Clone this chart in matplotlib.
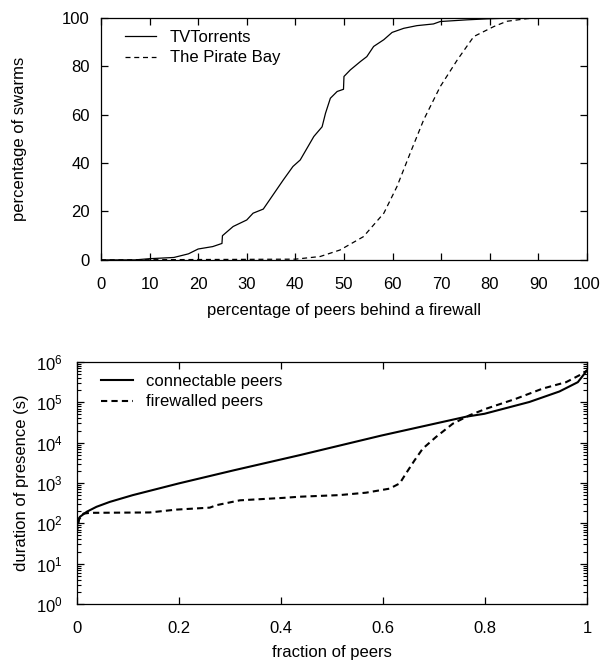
"""
Dos graficas: CDF de swarms vs firewall y duracion de presencia de peers.
"""

import matplotlib
matplotlib.use('Agg')
import matplotlib.pyplot as plt
from matplotlib.ticker import MultipleLocator, FormatStrFormatter, LogLocator

plt.rcParams['font.family'] = ['Liberation Sans', 'DejaVu Sans']
plt.rcParams['mathtext.fontset'] = 'custom'
plt.rcParams['mathtext.rm'] = 'Liberation Sans'
plt.rcParams['mathtext.it'] = 'Liberation Sans:italic'
plt.rcParams['mathtext.default'] = 'regular'
plt.rcParams['axes.linewidth'] = 0.9

# --- datos grafica superior ---
tv_x = [0, 7, 10, 15, 18, 20, 23, 24.9, 25, 27.2, 30, 31.3, 33.4, 34.7, 37.5, 39.5,
        41, 43.8, 45.5, 46.2, 47.2, 48.6, 49.9, 50, 51.3, 53.4, 54.7, 56.1, 58.2,
        59.9, 62.3, 65, 68.4, 69.8, 75.3, 79.4, 85, 100]
tv_y = [0, 0, 0.5, 1.0, 2.5, 4.5, 5.5, 6.8, 10, 13.8, 16.5, 19.3, 21, 24.8, 33, 38.6,
        41.3, 51, 55, 60.6, 66.8, 69.6, 70.5, 75.8, 78.5, 82, 84, 88.2, 91,
        94, 95.7, 96.8, 97.5, 98.5, 99.2, 99.6, 100, 100]

pb_x = [0, 40, 45.1, 49.2, 54, 58.2, 60.9, 63.6, 66.4, 69.8, 73.3, 76.7, 80.8,
        83.5, 87.7, 90, 100]
pb_y = [0, 0.3, 1.4, 4.1, 9.6, 19.3, 30.3, 44, 57.9, 71.6, 82.6, 92.3, 96.4,
        98.6, 99.7, 100, 100]

# --- datos grafica inferior ---
conn_frac = [0, 0.002, 0.0065, 0.02, 0.039, 0.065, 0.11, 0.2, 0.307, 0.437, 0.597,
             0.763, 0.799, 0.887, 0.946, 0.982, 1.0]
conn_sec = [56, 120, 145, 194, 257, 340, 500, 975, 2050, 4900, 15000,
            44000, 52000, 102000, 186000, 316000, 620000]

fw_frac = [0, 0.005, 0.013, 0.026, 0.143, 0.196, 0.261, 0.274, 0.32, 0.404, 0.437,
           0.515, 0.567, 0.613, 0.633, 0.645, 0.662, 0.678, 0.704, 0.737, 0.770,
           0.802, 0.861, 0.913, 0.959, 0.991, 1.0]
fw_sec = [56, 126, 174, 182, 186, 219, 245, 282, 372, 427, 457,
          501, 575, 724, 977, 1700, 3630, 7080, 13800, 29500, 47900,
          69200, 123000, 219000, 316000, 513000, 617000]


def style_axes(ax, ypad):
    ax.tick_params(which='both', direction='in', top=True, right=True, labelsize=12)
    ax.tick_params(axis='x', pad=12)
    ax.tick_params(axis='y', pad=ypad)
    ax.tick_params(which='major', length=5, width=0.9)
    ax.tick_params(which='minor', length=3, width=0.8)


def add_legend(ax):
    ax.legend(loc='upper left', frameon=False, fontsize=12, handlelength=1.9,
              handletextpad=0.8, labelspacing=0.35, borderaxespad=0.3,
              bbox_to_anchor=(0.025, 1.0))


fig = plt.figure(figsize=(6.08, 6.63), dpi=100)

ax1 = fig.add_axes([0.166, 0.608, 0.7995, 0.365])
ax1.plot(tv_x, tv_y, color='black', lw=0.9, label='TVTorrents')
ax1.plot(pb_x, pb_y, color='black', lw=0.9, dashes=(4, 3), label='The Pirate Bay')
ax1.set_xlim(0, 100)
ax1.set_ylim(0, 100)
ax1.xaxis.set_major_locator(MultipleLocator(10))
ax1.yaxis.set_major_locator(MultipleLocator(20))
ax1.set_xlabel('percentage of peers behind a firewall', fontsize=12, labelpad=8)
ax1.set_ylabel('percentage of swarms', fontsize=12, labelpad=25)
style_axes(ax1, 8)
add_legend(ax1)

ax2 = fig.add_axes([0.126, 0.089, 0.8395, 0.365])
ax2.plot(conn_frac, conn_sec, color='black', lw=1.5, label='connectable peers')
ax2.plot(fw_frac, fw_sec, color='black', lw=1.5, dashes=(3, 2), label='firewalled peers')
ax2.set_yscale('log')
ax2.set_xlim(0, 1)
ax2.set_ylim(1, 1e6)
ax2.xaxis.set_major_locator(MultipleLocator(0.2))
ax2.xaxis.set_major_formatter(FormatStrFormatter('%g'))
ax2.yaxis.set_major_locator(LogLocator(base=10, numticks=10))
ax2.yaxis.set_minor_locator(LogLocator(base=10, subs=range(2, 10), numticks=20))
ax2.set_xlabel('fraction of peers', fontsize=12, labelpad=7)
ax2.set_ylabel('duration of presence (s)', fontsize=12, labelpad=5)
style_axes(ax2, 10)
add_legend(ax2)

plt.savefig('out.png', dpi=100)
